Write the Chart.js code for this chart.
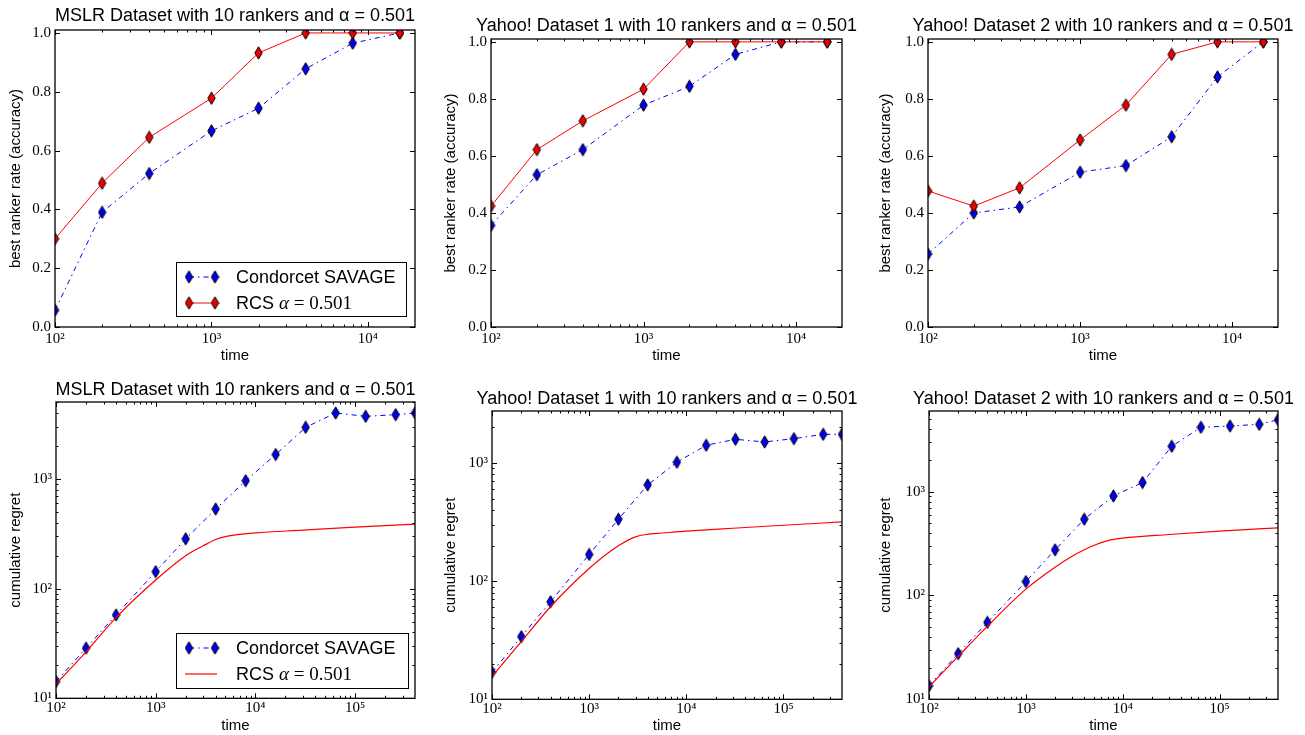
<!DOCTYPE html>
<html>
<head>
<meta charset="utf-8">
<script src="https://cdn.jsdelivr.net/npm/chart.js@4.4.1/dist/chart.umd.min.js"></script>
<style>
html,body{margin:0;padding:0;background:#fff;overflow:hidden;}
#wrap{position:relative;width:1305px;height:735px;overflow:hidden;background:#fff;}
.cell{position:absolute;}
.cell canvas{display:block;}
.lg{position:absolute;box-sizing:border-box;border:1.3px solid #000;background:#fff;padding-top:1px;
  font-family:"Liberation Sans",Arial,sans-serif;font-size:18px;color:#000;}
.lgrow{display:flex;align-items:center;height:26px;}
.lgrow canvas{margin-right:7px;flex:none;}
.lgrow span{white-space:nowrap;}
.math{font-family:"Liberation Serif","DejaVu Serif",serif;font-size:19px;}
</style>
</head>
<body>
<div id="wrap">
  <div class="cell" id="cTL" style="left:0px;top:0px;"><canvas id="tl" width="470" height="370"></canvas></div>
  <div class="cell" id="cTM" style="left:435px;top:0px;"><canvas id="tm" width="463" height="370"></canvas></div>
  <div class="cell" id="cTR" style="left:870px;top:0px;"><canvas id="tr" width="466" height="370"></canvas></div>
  <div class="cell" id="cBL" style="left:0px;top:370px;"><canvas id="bl" width="471" height="365"></canvas></div>
  <div class="cell" id="cBM" style="left:435px;top:370px;"><canvas id="bm" width="464" height="365"></canvas></div>
  <div class="cell" id="cBR" style="left:870px;top:370px;"><canvas id="br" width="467" height="365"></canvas></div>
</div>
<script>
// ---------------- DATA ----------------
const accTimes = [100, 200, 400, 1000, 2000, 4000, 8000, 16000];
const regTimes = [100, 200, 400, 1000, 2000, 4000, 8000, 16000, 32000, 64000, 128000, 256000, 400000];
const rcsCurveTimes = [100, 200, 400, 1000, 2000, 3000, 4000, 5000, 7000, 10000, 30000, 100000, 400000];

const mslrAccSavage   = [0.057, 0.390, 0.522, 0.667, 0.744, 0.878, 0.965, 1.000];
const mslrAccRcs      = [0.300, 0.489, 0.645, 0.778, 0.932, 1.000, 1.000, 1.000];
const yahoo1AccSavage = [0.356, 0.534, 0.622, 0.778, 0.844, 0.956, 1.000, 1.000];
const yahoo1AccRcs    = [0.424, 0.622, 0.723, 0.834, 1.000, 1.000, 1.000, 1.000];
const yahoo2AccSavage = [0.256, 0.400, 0.421, 0.543, 0.566, 0.667, 0.877, 1.000];
const yahoo2AccRcs    = [0.477, 0.424, 0.488, 0.656, 0.778, 0.956, 1.000, 1.000];

const mslrRegSavage   = [14.2, 28.7, 57.6, 143, 285, 533, 966, 1676, 2965, 4010, 3735, 3870, 4010];
const yahoo1RegSavage = [16.9, 33.9, 66.8, 168, 334, 652, 1014, 1410, 1585, 1505, 1605, 1746, 1746];
const yahoo2RegSavage = [13.5, 27.5, 55.0, 136, 275, 542, 908, 1222, 2729, 4160, 4280, 4440, 4920];

const mslrRegRcs      = [13.5, 26.5, 54.5, 120, 200, 246, 281, 299, 313, 323, 342, 364, 388];
const yahoo1RegRcs    = [15.6, 30.7, 60.7, 128, 199, 237, 249, 253, 259, 265, 280, 297, 317];
const yahoo2RegRcs    = [13.2, 25.9, 50.4, 115, 187, 238, 275, 303, 337, 356, 386, 417, 448];

const accTicks = [0.0, 0.2, 0.4, 0.6, 0.8, 1.0];
const accXTicks = [100, 1000, 10000];
const regXTicks = [100, 1000, 10000, 100000];
const regYTicks = [10, 100, 1000];

const savageLabel = 'Condorcet SAVAGE';
const rcsLabel = 'RCS α = 0.501';
const titles = {
  mslr: 'MSLR Dataset with 10 rankers and α = 0.501',
  y1: 'Yahoo! Dataset 1 with 10 rankers and α = 0.501',
  y2: 'Yahoo! Dataset 2 with 10 rankers and α = 0.501'
};

// ---------------- STYLE HELPERS ----------------
const SANS = '"Liberation Sans", Arial, sans-serif';
const SERIF = '"Liberation Serif", "DejaVu Serif", serif';
const BLUE = '#0000ff', RED = '#ff0000';

function diamond(fill) {
  const c = document.createElement('canvas');
  c.width = 9; c.height = 14;
  const g = c.getContext('2d');
  g.beginPath();
  g.moveTo(4.5, 0.8); g.lineTo(8.2, 7); g.lineTo(4.5, 13.2); g.lineTo(0.8, 7); g.closePath();
  g.fillStyle = fill; g.fill();
  g.strokeStyle = '#000'; g.lineWidth = 1; g.stroke();
  return c;
}
const blueDiamond = diamond('#0000ee');
const redDiamond = diamond('#ee0000');

const SUP = {'0':'⁰','1':'¹','2':'²','3':'³','4':'⁴','5':'⁵','6':'⁶'};
function powLabel(v) {
  const e = Math.round(Math.log10(v));
  return '10' + String(e).split('').map(ch => SUP[ch]).join('');
}
function pts(xs, ys) { return xs.map((x, i) => ({x: x, y: ys[i]})); }

function savageDs(xs, ys) {
  return {label: savageLabel, data: pts(xs, ys), borderColor: BLUE, backgroundColor: BLUE,
    borderWidth: 1, borderDash: [5, 4, 1.5, 4], pointStyle: blueDiamond, pointRadius: 6,
    pointHoverRadius: 6, tension: 0, clip: 0, order: 1};
}
function rcsMarkDs(xs, ys) {
  return {label: rcsLabel, data: pts(xs, ys), borderColor: RED, backgroundColor: RED,
    borderWidth: 1, pointStyle: redDiamond, pointRadius: 6, pointHoverRadius: 6,
    tension: 0, clip: 0, order: 0};
}
function rcsLineDs(xs, ys) {
  return {label: rcsLabel, data: pts(xs, ys), borderColor: RED, backgroundColor: RED,
    borderWidth: 1.2, pointRadius: 0, pointHoverRadius: 0, cubicInterpolationMode: 'monotone',
    clip: 0, order: 0};
}

// ---------------- PLUGINS ----------------
const MAJ = 5, MIN = 2.5;
const mplAxes = {
  id: 'mplAxes',
  afterDraw(chart) {
    const ctx = chart.ctx, a = chart.chartArea;
    const sx = chart.scales.x, sy = chart.scales.y;
    const minors = s => {
      if (s.type !== 'logarithmic') return [];
      const out = [];
      for (let d = Math.floor(Math.log10(s.min)); d <= Math.floor(Math.log10(s.max)); d++)
        for (let k = 2; k < 10; k++) {
          const v = k * Math.pow(10, d);
          if (v > s.min && v < s.max) out.push(v);
        }
      return out;
    };
    ctx.save();
    ctx.strokeStyle = '#000';
    ctx.lineWidth = 1;
    const seg = (x1, y1, x2, y2) => { ctx.beginPath(); ctx.moveTo(x1, y1); ctx.lineTo(x2, y2); ctx.stroke(); };
    const xm = sx.ticks.map(t => [t.value, MAJ]).concat(minors(sx).map(v => [v, MIN]));
    xm.forEach(([v, len]) => {
      const p = Math.round(sx.getPixelForValue(v)) + 0.5;
      seg(p, a.bottom, p, a.bottom - len);
      seg(p, a.top, p, a.top + len);
    });
    const ym = sy.ticks.map(t => [t.value, MAJ]).concat(minors(sy).map(v => [v, MIN]));
    ym.forEach(([v, len]) => {
      const p = Math.round(sy.getPixelForValue(v)) + 0.5;
      seg(a.left, p, a.left + len, p);
      seg(a.right, p, a.right - len, p);
    });
    ctx.lineWidth = 1.3;
    ctx.strokeRect(a.left, a.top, a.right - a.left, a.bottom - a.top);
    ctx.restore();
  }
};

function formatLabel(s) {
  return s.replace('α = 0.501', '<span class="math"><i>α</i> = 0.501</span>');
}

const htmlLegend = {
  id: 'htmlLegend',
  afterUpdate(chart, args, opts) {
    if (!opts || !opts.show) return;
    const cell = chart.canvas.parentNode;
    let box = cell.querySelector('.lg');
    if (!box) { box = document.createElement('div'); box.className = 'lg'; cell.appendChild(box); }
    box.innerHTML = '';
    const a = chart.chartArea;
    box.style.left = (a.right - opts.right - opts.width) + 'px';
    box.style.top = (a.bottom - opts.bottom - opts.height) + 'px';
    box.style.width = opts.width + 'px';
    box.style.height = opts.height + 'px';
    chart.data.datasets.forEach(ds => {
      const row = document.createElement('div'); row.className = 'lgrow';
      const c = document.createElement('canvas'); c.width = 52; c.height = 26;
      const g = c.getContext('2d');
      const hasMarks = ds.pointRadius !== 0 && ds.pointStyle instanceof HTMLCanvasElement;
      g.strokeStyle = ds.borderColor; g.lineWidth = ds.borderWidth;
      g.setLineDash(ds.borderDash || []);
      g.beginPath();
      if (hasMarks) { g.moveTo(12, 13); g.lineTo(38, 13); } else { g.moveTo(8, 13); g.lineTo(40, 13); }
      g.stroke();
      if (hasMarks) {
        [12, 38].forEach(px => g.drawImage(ds.pointStyle, px - ds.pointStyle.width / 2, 13 - ds.pointStyle.height / 2));
      }
      const t = document.createElement('span'); t.innerHTML = formatLabel(ds.label);
      row.appendChild(c); row.appendChild(t); box.appendChild(row);
    });
  }
};

// ---------------- CHART BUILDER ----------------
function build(o) {
  const isLogY = o.yType === 'logarithmic';
  return new Chart(document.getElementById(o.id), {
    type: 'line',
    data: {datasets: o.datasets},
    options: {
      responsive: false,
      animation: false,
      events: [],
      layout: {padding: 0},
      plugins: {
        legend: {display: false},
        tooltip: {enabled: false},
        title: {display: true, text: o.title, color: '#000', fullSize: true,
          font: {family: SANS, size: 18, weight: 'normal', lineHeight: 1.2},
          padding: {top: o.pt, bottom: o.pb}},
        htmlLegend: o.legend || {show: false}
      },
      scales: {
        x: {
          type: 'logarithmic', position: 'bottom', min: o.xMin, max: o.xMax,
          grid: {display: false, drawTicks: false}, border: {display: false},
          afterBuildTicks: s => { s.ticks = o.xTicks.map(v => ({value: v, major: true})); },
          afterFit: s => { s.height = o.xH; },
          ticks: {autoSkip: false, maxRotation: 0, padding: o.xPad, color: '#000',
            font: {family: SERIF, size: 15}, callback: v => powLabel(v)},
          title: {display: true, text: 'time', color: '#000',
            font: {family: SANS, size: 15, lineHeight: 1.2}, padding: {top: 0, bottom: o.xtPad}}
        },
        y: {
          type: o.yType, position: 'left', min: o.yMin, max: o.yMax,
          grid: {display: false, drawTicks: false}, border: {display: false},
          afterBuildTicks: s => { s.ticks = o.yTicks.map(v => ({value: v, major: true})); },
          afterFit: s => { s.width = o.L; },
          ticks: {autoSkip: false, padding: 4, color: '#000', font: {family: SERIF, size: 15},
            callback: v => isLogY ? powLabel(v) : Number(v).toFixed(1)},
          title: {display: true, text: o.yTitle, color: '#000',
            font: {family: SANS, size: 15, lineHeight: 1.2}, padding: {top: 7, bottom: 0}}
        },
        yR: {
          type: 'linear', position: 'right', display: true,
          grid: {display: false, drawTicks: false}, border: {display: false},
          ticks: {display: false},
          afterFit: s => { s.width = o.L; }
        }
      }
    },
    plugins: [mplAxes, htmlLegend]
  });
}

const accLegend = {show: true, width: 231, height: 55, right: 8, bottom: 10};
const regLegend = {show: true, width: 233, height: 56, right: 6, bottom: 9};

const accCommon = {yType: 'linear', yMin: 0, yMax: 1.01, yTicks: accTicks, xMin: 100, xMax: 20000,
  xTicks: accXTicks, yTitle: 'best ranker rate (accuracy)', xH: 43, xPad: 3, xtPad: 5};
const regCommon = {yType: 'logarithmic', yMin: 10, xMin: 100, xMax: 400000, yTicks: regYTicks,
  xTicks: regXTicks, yTitle: 'cumulative regret', xPad: 1, xtPad: 0};

build(Object.assign({}, accCommon, {id: 'tl', L: 55, pt: 5.6, pb: 2.8, title: titles.mslr, legend: accLegend,
  datasets: [savageDs(accTimes, mslrAccSavage), rcsMarkDs(accTimes, mslrAccRcs)]}));
build(Object.assign({}, accCommon, {id: 'tm', L: 56, pt: 15.6, pb: 1.8, title: titles.y1,
  datasets: [savageDs(accTimes, yahoo1AccSavage), rcsMarkDs(accTimes, yahoo1AccRcs)]}));
build(Object.assign({}, accCommon, {id: 'tr', L: 58, pt: 15.2, pb: 2.2, title: titles.y2,
  datasets: [savageDs(accTimes, yahoo2AccSavage), rcsMarkDs(accTimes, yahoo2AccRcs)]}));

build(Object.assign({}, regCommon, {id: 'bl', L: 56, pt: 8.9, pb: 1.5, xH: 36.7, yMax: 5050, title: titles.mslr,
  legend: regLegend,
  datasets: [savageDs(regTimes, mslrRegSavage), rcsLineDs(rcsCurveTimes, mslrRegRcs)]}));
build(Object.assign({}, regCommon, {id: 'bm', L: 57, pt: 17.9, pb: 1.5, xH: 35.7, yMax: 2750, title: titles.y1,
  datasets: [savageDs(regTimes, yahoo1RegSavage), rcsLineDs(rcsCurveTimes, yahoo1RegRcs)]}));
build(Object.assign({}, regCommon, {id: 'br', L: 59, pt: 17.9, pb: 1.5, xH: 35.7, yMax: 5970, title: titles.y2,
  datasets: [savageDs(regTimes, yahoo2RegSavage), rcsLineDs(rcsCurveTimes, yahoo2RegRcs)]}));
</script>
</body>
</html>
